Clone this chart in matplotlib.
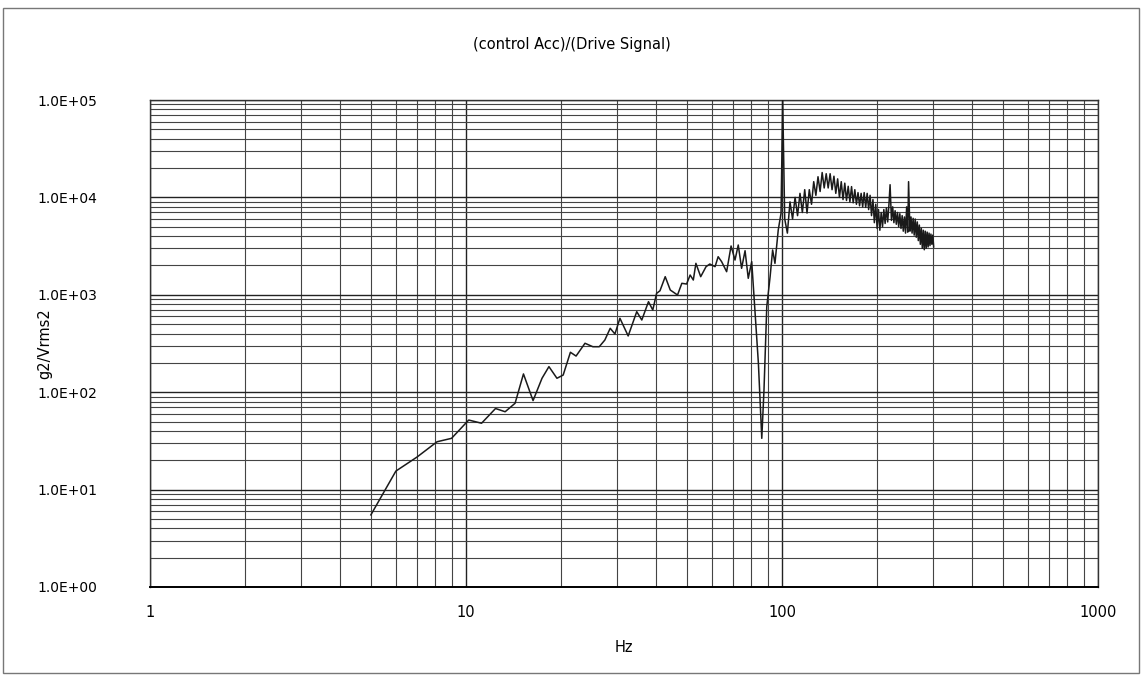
import matplotlib
matplotlib.use('Agg')
import matplotlib.pyplot as plt
from matplotlib.patches import Rectangle
from matplotlib.ticker import LogLocator, NullFormatter, FixedLocator

# frequency (Hz) and transfer function (g2/Vrms2)
freq = [5, 6, 7, 8.1, 9.0, 10.2, 11.2, 12.4, 13.3, 14.3,
        15.2, 16.3, 17.4, 18.3, 19.4, 20.3, 21.4, 22.3, 23.8, 25.2,
        26.4, 27.5, 28.6, 29.6, 30.7, 32.6, 34.7, 36.0, 37.8, 39.0,
        40.1, 41.1, 42.7, 44.3, 46.7, 48.2, 49.9, 51.2, 52.4, 53.4,
        55.3, 57.5, 59.1, 61.4, 62.8, 64.4, 66.8, 69.0, 71.0, 72.7,
        74.5, 76.4, 78.2, 80.2, 82.2, 84.2, 86.3, 87.7, 89.5, 91.7,
        93.4, 95.0, 97.3, 99.3, 100.5, 102, 104, 106, 108, 110,
        112, 114, 116, 118, 120, 122, 124, 126, 128, 130,
        132, 134, 136, 138, 140, 142, 144, 146, 148, 150,
        152, 154, 156, 158, 160, 162, 164, 166, 168, 170,
        172, 174, 176, 178, 180, 182, 184, 186, 188, 190,
        192, 194, 196, 198, 200, 202, 204, 206, 208, 210,
        212, 214, 216, 218, 219.8, 222, 224, 226, 228, 230,
        232, 234, 236, 238, 240, 242, 244, 246, 248, 250,
        251.5, 254, 256, 258, 260, 262, 264, 266, 268, 270,
        272, 274, 276, 278, 280, 282, 284, 286, 288, 290,
        292, 294, 296, 298, 300, 302]
resp = [5.5, 15.5, 21.6, 31, 33.6, 51.8, 48, 68, 63, 77,
        154, 82, 139, 183, 139, 150, 257, 235, 318, 293,
        293, 343, 453, 396, 574, 378, 671, 551, 850, 698,
        1035, 1100, 1535, 1120, 995, 1312, 1290, 1596, 1418, 2104,
        1535, 1945, 2070, 1945, 2460, 2190, 1727, 3170, 2275, 3245,
        1870, 2835, 1477, 2190, 646, 198, 33.6, 105, 755, 1535,
        2885, 2104, 4625, 6870, 100000, 6000, 4300, 9000, 6000, 10000,
        6500, 11000, 7000, 12000, 6900, 12000, 8500, 14500, 10500, 16300,
        11500, 18000, 12500, 17500, 12500, 17500, 12000, 16500, 11000, 15500,
        10000, 14500, 9500, 14000, 9300, 13000, 9000, 12900, 8800, 12000,
        8500, 11200, 8200, 11000, 8000, 11200, 7900, 11000, 7500, 10500,
        6500, 9500, 5500, 8500, 4800, 7500, 4600, 7000, 5000, 7500,
        5400, 7800, 5600, 8500, 13500, 5800, 8000, 5500, 7300, 5300,
        7000, 5000, 6800, 4800, 6500, 4500, 6300, 4300, 8000, 4400,
        14500, 4500, 6300, 4300, 6100, 4100, 6000, 3900, 5600, 3600,
        5200, 3300, 4800, 3000, 4600, 2900, 4500, 3000, 4400, 3100,
        4300, 3200, 4200, 3300, 4100, 3100]

xticks = [1, 10, 100, 1000]
xticklabels = ['1', '10', '100', '1000']
yticks = [1e0, 1e1, 1e2, 1e3, 1e4, 1e5]
yticklabels = ['1.0E+00', '1.0E+01', '1.0E+02', '1.0E+03', '1.0E+04', '1.0E+05']

plt.rcParams['font.family'] = ['DejaVu Sans']

fig = plt.figure(figsize=(11.44, 6.77), dpi=100)
ax = fig.add_axes([150/1144, 1 - 587/677, 948/1144, 487/677])

ax.plot(freq, resp, color='#1a1a1a', lw=1.1, zorder=3)

ax.set_xscale('log')
ax.set_yscale('log')
ax.set_xlim(1, 1000)
ax.set_ylim(1, 1e5)

ax.xaxis.set_major_locator(FixedLocator(xticks))
ax.set_xticklabels(xticklabels)
ax.yaxis.set_major_locator(FixedLocator(yticks))
ax.set_yticklabels(yticklabels)
ax.xaxis.set_minor_locator(LogLocator(base=10, subs=range(2, 10)))
ax.yaxis.set_minor_locator(LogLocator(base=10, subs=range(2, 10)))
ax.xaxis.set_minor_formatter(NullFormatter())
ax.yaxis.set_minor_formatter(NullFormatter())

ax.grid(True, which='major', color='#222222', lw=1.0)
ax.grid(True, which='minor', color='#444444', lw=0.8)
ax.set_axisbelow(True)

ax.tick_params(which='both', length=0)
ax.tick_params(axis='x', pad=13, labelsize=10.5)
ax.tick_params(axis='y', pad=38, labelsize=10)

for s in ax.spines.values():
    s.set_color('#333333')
    s.set_linewidth(1.0)
ax.spines['bottom'].set_color('black')
ax.spines['bottom'].set_linewidth(1.4)

ax.set_xlabel('Hz', fontsize=10.5, labelpad=14)
ax.set_ylabel('g2/Vrms2', fontsize=10.5)
ax.yaxis.set_label_coords(-98/948, 0.5)

fig.text(0.5, 1 - 44/677, '(control Acc)/(Drive Signal)', ha='center', va='center', fontsize=10.5)

# chart area border
fig.patches.append(Rectangle((3/1144, 4/677), 1136/1144, 665/677, transform=fig.transFigure,
                             fill=False, edgecolor='#777777', lw=1.0))

plt.savefig('out.png', dpi=100)
